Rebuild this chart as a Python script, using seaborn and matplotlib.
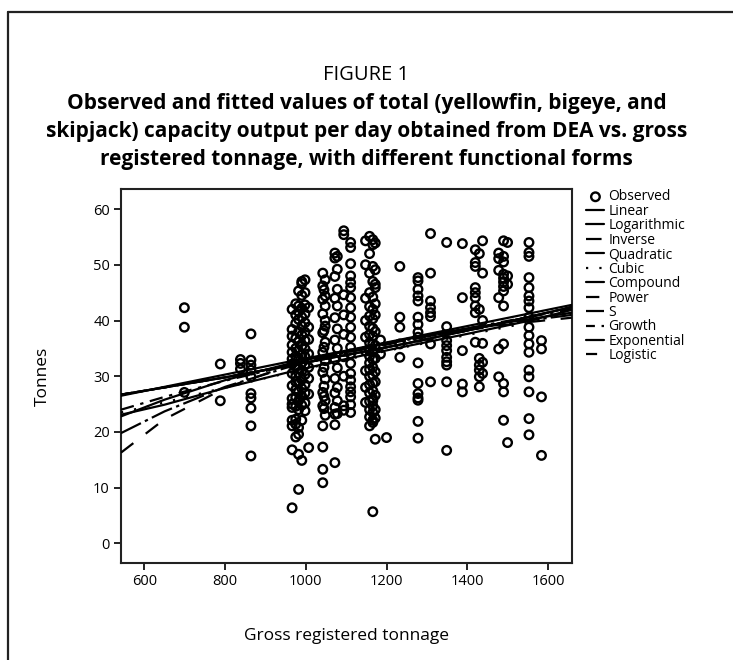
import numpy as np
import pandas as pd
import matplotlib
matplotlib.use("Agg")
import matplotlib.pyplot as plt
from matplotlib.lines import Line2D
import seaborn as sns

# Observed capacity output (tonnes/day), grouped by vessel GRT
obs_grt = [699, 788, 838, 864,
           966, 975, 982, 990, 998, 1007,
           1042, 1045, 1048, 1072, 1078, 1094, 1111,
           1148, 1158, 1166, 1172, 1185, 1200, 1233, 1278, 1309,
           1349, 1388, 1420, 1430, 1438, 1478, 1490, 1500, 1553, 1584]
obs_tonnes = [
    [42.3, 38.8, 27.1],
    [32.2, 25.6],
    [33.0, 32.3, 31.3],
    [37.6, 32.9, 32.0, 31.1, 29.9, 26.9, 26.1, 24.3, 21.1, 15.7],
    [42.0, 38.4, 37.2, 35.6, 34.3, 33.1, 32.2, 30.5, 28.3, 26.0, 25.0, 24.4, 22.1, 21.1, 16.8, 6.4],
    [43.0, 41.0, 39.5, 36.8, 35.0, 33.6, 31.8, 30.0, 29.0, 27.6, 26.2, 24.6, 22.3, 21.4, 19.1],
    [45.3, 42.6, 41.6, 40.2, 38.0, 36.2, 34.6, 33.2, 31.4, 30.6, 28.8, 27.2, 25.6, 24.0, 20.8, 19.6, 16.0, 9.7],
    [47.0, 46.6, 44.5, 42.2, 40.6, 39.0, 37.4, 35.4, 33.8, 32.4, 31.0, 29.4, 27.8, 26.4, 24.8, 22.1, 14.9],
    [47.3, 45.0, 42.8, 41.2, 39.6, 37.9, 36.4, 34.9, 33.5, 32.0, 30.3, 28.5, 27.0, 25.2, 23.8],
    [42.3, 38.8, 36.6, 34.0, 31.6, 29.6, 26.8, 17.2],
    [48.5, 46.2, 43.8, 41.2, 37.8, 34.3, 30.7, 27.1, 24.7, 21.1, 17.3, 13.3, 10.9],
    [45.5, 38.2, 35.2, 31.6, 28.2, 26.4, 24.2],
    [47.3, 44.4, 42.6, 40.0, 39.0, 36.1, 32.8, 29.5, 25.6, 23.0],
    [52.1, 51.2, 47.9, 44.0, 40.5, 36.5, 33.0, 29.6, 27.0, 24.4, 23.2, 21.3, 14.5],
    [51.5, 49.2, 45.6, 42.6, 38.5, 35.0, 31.5, 28.0, 25.6, 23.3],
    [56.1, 55.4, 44.6, 41.0, 37.5, 33.5, 30.0, 24.7, 23.9],
    [54.0, 53.1, 50.2, 48.0, 46.8, 45.9, 44.1, 42.3, 40.6, 38.8, 37.0, 35.2, 34.0, 32.3, 30.5,
     29.3, 28.1, 27.2, 26.3, 24.9, 23.5],
    [54.3, 50.0, 44.0, 40.0, 37.0, 34.5, 31.0, 28.0, 25.3],
    [55.1, 52.0, 48.5, 45.0, 42.5, 40.8, 39.0, 37.5, 36.0, 34.8, 33.6, 32.4, 31.2, 30.0, 28.5,
     27.0, 25.5, 24.0, 22.7, 21.1],
    [54.5, 53.6, 49.7, 47.0, 44.2, 42.0, 40.3, 38.6, 37.2, 35.8, 34.4, 33.0, 31.6, 30.2, 28.8,
     27.4, 26.0, 25.6, 24.7, 23.5, 22.1, 21.7, 5.7],
    [53.9, 49.1, 46.5, 45.9, 43.0, 41.0, 38.0, 35.5, 33.2, 30.8, 29.0, 26.6, 24.0, 22.5, 18.7],
    [36.5, 34.0],
    [19.0],
    [49.7, 40.6, 38.8, 35.8, 33.4],
    [47.7, 47.1, 45.6, 44.4, 43.5, 40.6, 39.3, 37.9, 37.0, 32.4, 28.7, 26.9, 26.1, 25.7, 21.9, 18.9],
    [55.6, 48.5, 43.5, 42.3, 41.4, 40.7, 35.8, 29.0],
    [54.0, 38.9, 36.4, 35.5, 34.6, 33.4, 32.6, 32.0, 29.0, 16.7],
    [53.8, 44.1, 34.6, 28.6, 27.2],
    [52.7, 50.4, 49.7, 45.9, 45.0, 44.1, 42.6, 41.4, 36.1],
    [52.0, 42.0, 33.2, 32.0, 31.1, 29.9, 28.1],
    [54.3, 48.5, 40.0, 35.9, 32.5, 30.5],
    [52.1, 51.1, 49.0, 44.1, 34.9, 29.9],
    [54.3, 51.5, 50.5, 48.3, 47.6, 46.9, 46.1, 45.3, 42.6, 35.8, 28.7, 27.2, 22.1],
    [54.0, 48.0, 46.5, 18.1],
    [54.0, 52.2, 51.5, 47.7, 45.9, 44.4, 43.5, 42.3, 40.6, 38.8, 37.3, 35.8, 34.3, 31.1, 29.9,
     27.2, 22.4, 19.5],
    [36.4, 34.9, 26.3, 15.8],
]

# Fitted values
fit_grt = [542, 650, 800, 950, 1100, 1250, 1400, 1550, 1659]
fit_linear = [26.5, 28.1, 30.3, 32.5, 34.6, 36.8, 39.0, 41.2, 42.8]
fit_logarithmic = [22.8, 25.8, 29.3, 32.1, 34.5, 36.7, 38.6, 40.2, 41.4]
fit_inverse = [16.3, 22.3, 27.9, 31.7, 34.5, 36.7, 38.3, 39.7, 40.5]
fit_quadratic = [23.1, 24.9, 27.9, 30.6, 33.1, 35.4, 37.6, 39.9, 41.9]
fit_cubic = [23.5, 25.3, 28.0, 30.5, 33.0, 35.3, 37.4, 39.6, 41.5]
fit_compound = [26.7, 28.0, 29.8, 31.8, 33.8, 35.9, 38.2, 40.6, 42.4]
fit_power = [24.0, 26.3, 29.2, 31.8, 34.2, 36.4, 38.6, 40.6, 42.0]
fit_s = [19.8, 23.7, 28.1, 31.5, 34.3, 36.5, 38.4, 40.0, 41.0]
fit_growth = [26.7, 28.0, 29.8, 31.8, 33.8, 35.9, 38.2, 40.6, 42.4]
fit_exponential = [26.7, 28.0, 29.8, 31.8, 33.8, 35.9, 38.2, 40.6, 42.4]
fit_logistic = [26.7, 28.0, 29.8, 31.8, 33.8, 35.9, 38.2, 40.6, 42.4]

model_names = ["Linear", "Logarithmic", "Inverse", "Quadratic", "Cubic", "Compound",
               "Power", "S", "Growth", "Exponential", "Logistic"]
model_fits = [fit_linear, fit_logarithmic, fit_inverse, fit_quadratic, fit_cubic, fit_compound,
              fit_power, fit_s, fit_growth, fit_exponential, fit_logistic]
model_styles = ["-", "-", (0, (7, 7)), "-", (0, (1, 5)), "-",
                (0, (6, 3, 1.5, 3)), (0, (10, 2, 1.5, 2)), (0, (4, 3, 4, 3, 1.5, 3)), "-", (0, (5, 12))]

obs = pd.DataFrame({
    "grt": [g for g, ys in zip(obs_grt, obs_tonnes) for _ in ys],
    "tonnes": [y for ys in obs_tonnes for y in ys],
})

sns.set_style("ticks")
plt.rcParams['font.family'] = ['Open Sans', 'DejaVu Sans']
plt.rcParams['text.color'] = 'black'
plt.rcParams['axes.labelcolor'] = 'black'
plt.rcParams['xtick.color'] = 'black'
plt.rcParams['ytick.color'] = 'black'

fig = plt.figure(figsize=(7.33, 6.6), dpi=100)
ax = fig.add_axes([0.1651, 0.147, 0.6149, 0.5667])

sns.scatterplot(data=obs, x="grt", y="tonnes", ax=ax, marker="o", s=38,
                facecolor="none", edgecolor="black", linewidth=1.7, label="Observed", zorder=3)

for name, fit, ls in zip(model_names, model_fits, model_styles):
    sns.lineplot(x=fit_grt, y=fit, ax=ax, color="black", linewidth=1.6, linestyle=ls,
                 label=name, zorder=4)

ax.set_xlim(542, 1659)
ax.set_ylim(-3.5, 63.6)
ax.set_xticks(np.arange(600, 1601, 200))
ax.set_yticks(np.arange(0, 61, 10))
ax.tick_params(axis="both", labelsize=10.5, length=5, width=1.4, color="#222222", pad=3)
for sp in ax.spines.values():
    sp.set_visible(True)
    sp.set_linewidth(1.5)
    sp.set_color("#222222")
ax.set_xlabel("Gross registered tonnage", fontsize=12.5, labelpad=28)
ax.set_ylabel("Tonnes", fontsize=12.5, labelpad=30)

handles, labels = ax.get_legend_handles_labels()
ax.get_legend().remove()
fig.legend(handles, labels, loc="upper left", bbox_to_anchor=(0.800, 0.713),
           frameon=False, fontsize=10, handlelength=1.3, handletextpad=0.3,
           labelspacing=-0.04, borderpad=0, borderaxespad=0)

# titles
fig.text(0.5, 1 - 75 / 660, "FIGURE 1", ha="center", va="center", fontsize=14.5)
title_lines = ["Observed and fitted values of total (yellowfin, bigeye, and",
               "skipjack) capacity output per day obtained from DEA vs. gross",
               "registered tonnage, with different functional forms"]
for i, line in enumerate(title_lines):
    fig.text(0.5, 1 - (104 + 27.5 * i) / 660, line, ha="center", va="center",
             fontsize=15, fontweight="bold")

# outer frame (top and left edges)
fig.add_artist(Line2D([8 / 733, 1], [1 - 12 / 660] * 2, transform=fig.transFigure,
                      color="#222222", linewidth=1.6))
fig.add_artist(Line2D([8 / 733] * 2, [1 - 12 / 660, 0], transform=fig.transFigure,
                      color="#222222", linewidth=1.6))

fig.savefig("out.png", dpi=100)
